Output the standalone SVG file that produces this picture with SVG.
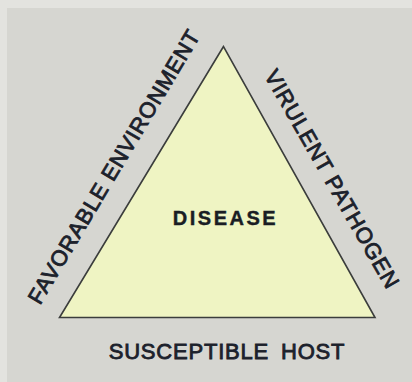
<svg xmlns="http://www.w3.org/2000/svg" width="412" height="382" viewBox="0 0 412 382">
<style>
.lbl{font-family:"Liberation Sans",Arial,sans-serif;font-size:22px;fill:#1c212b;stroke:#1c212b;stroke-width:0.85;letter-spacing:0.8px;text-anchor:middle}
.core{font-family:"Liberation Sans",Arial,sans-serif;font-size:20px;font-weight:bold;fill:#1a1d24;stroke:#1a1d24;stroke-width:0.4;letter-spacing:2.5px;text-anchor:middle}
.tri{fill:#eff4c3;stroke:#3b3d3c;stroke-width:1.6;stroke-linejoin:miter}
</style>
<rect x="0" y="0" width="412" height="382" fill="#d6d6d1"/>
<rect x="0" y="0" width="412" height="8" fill="#e3e3df"/>
<rect x="0" y="0" width="7" height="382" fill="#e3e3df"/>
<g id="connectors"></g>
<g id="disease">
<polygon class="tri" points="223.5,46.5 59.5,317.5 375,317.5"/>
<text class="core" x="225.5" y="224.5">DISEASE</text>
</g>
<g id="environment">
<text class="lbl" transform="translate(120.5,170.5) rotate(-59.2)" x="0" y="0">FAVORABLE ENVIRONMENT</text>
</g>
<g id="pathogen">
<text class="lbl" transform="translate(325.5,183) rotate(60.2)" x="0" y="0">VIRULENT PATHOGEN</text>
</g>
<g id="host">
<text class="lbl" x="227" y="358.5" style="word-spacing:5px">SUSCEPTIBLE HOST</text>
</g>
</svg>
